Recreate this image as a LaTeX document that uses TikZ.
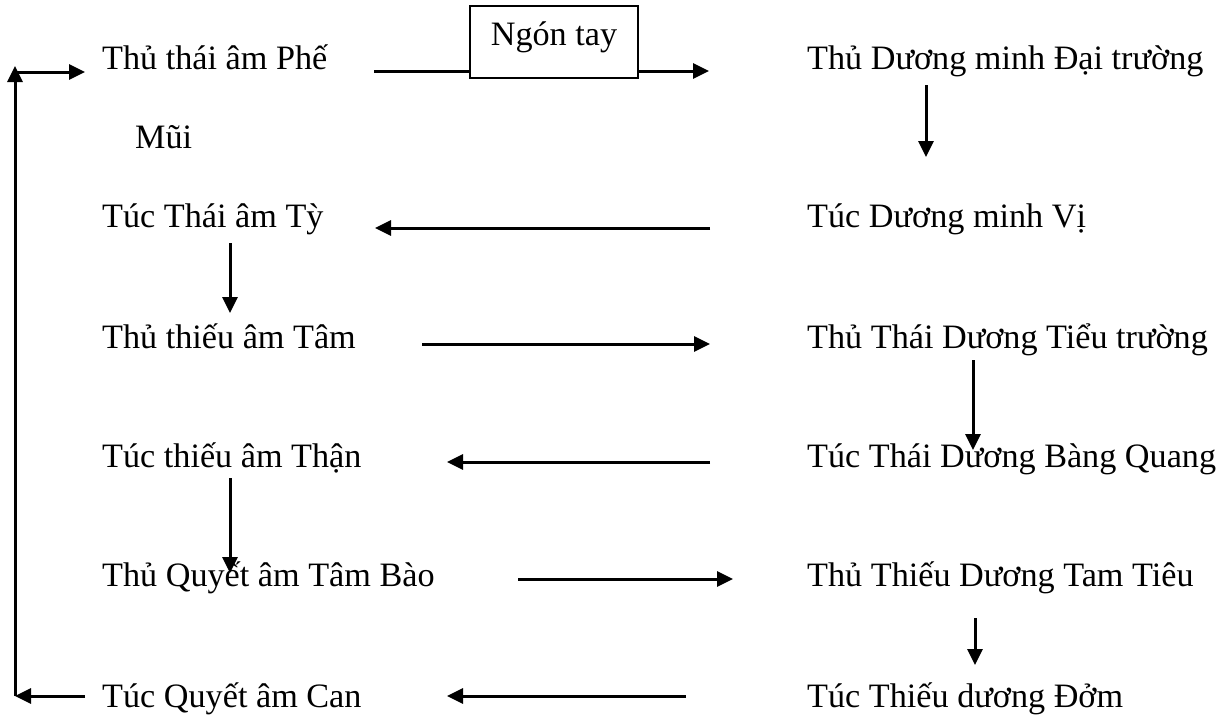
\documentclass[tikz,border=0pt]{standalone}
\usepackage{fontspec}
\setmainfont{Liberation Serif}
\usetikzlibrary{arrows.meta}
\begin{document}
\begin{tikzpicture}[x=1pt,y=-1pt,
  lbl/.style={anchor=base west, inner sep=0pt, font=\fontsize{34.2}{40}\selectfont},
  conn/.style={line width=3pt, -{Triangle[length=16pt,width=15pt]}},
  plainline/.style={line width=3pt},
  frame/.style={draw, line width=2.3pt, minimum width=168pt, minimum height=72pt, inner sep=0pt}]
\useasboundingbox (0,0) rectangle (1226,715);
% left column
\node[lbl] (L1) at (102,69) {Thủ thái âm Phế};
\node[lbl] (Mui) at (135,148) {Mũi};
\node[lbl] (L3) at (102,227) {Túc Thái âm Tỳ};
\node[lbl] (L4) at (102,348) {Thủ thiếu âm Tâm};
\node[lbl] (L5) at (102,467) {Túc thiếu âm Thận};
\node[lbl] (L6) at (102,586) {Thủ Quyết âm Tâm Bào};
\node[lbl] (L7) at (102,707) {Túc Quyết âm Can};
% right column
\node[lbl] (R1) at (807,69) {Thủ Dương minh Đại trường};
\node[lbl] (R3) at (807,227) {Túc Dương minh Vị};
\node[lbl] (R4) at (807,348) {Thủ Thái Dương Tiểu trường};
\node[lbl] (R5) at (807,467) {Túc Thái Dương Bàng Quang};
\node[lbl] (R6) at (807,586) {Thủ Thiếu Dương Tam Tiêu};
\node[lbl] (R7) at (807,707) {Túc Thiếu dương Đởm};
% box
\node[frame] (box) at (554,42) {};
\node[lbl, anchor=base] (ngon) at (554,45) {Ngón tay};
% coordinates
\coordinate (a1s) at (374,71);
\coordinate (a1m) at (box.west |- a1s);
\coordinate (a1n) at (box.east |- a1s);
\coordinate (a1e) at (709,71);
\coordinate (d1s) at (926,85);
\coordinate (d1e) at (926,157);
\coordinate (a3s) at (710,228);
\coordinate (a3e) at (375,228);
\coordinate (e1s) at (230,243);
\coordinate (e1e) at (230,313);
\coordinate (a4s) at (422,344);
\coordinate (a4e) at (710,344);
\coordinate (d2s) at (973,360);
\coordinate (d2e) at (973,450);
\coordinate (a5s) at (710,462);
\coordinate (a5e) at (447,462);
\coordinate (e2s) at (230,478);
\coordinate (e2e) at (230,573);
\coordinate (a6s) at (518,579);
\coordinate (a6e) at (733,579);
\coordinate (d3s) at (975,618);
\coordinate (d3e) at (975,665);
\coordinate (a7s) at (686,696);
\coordinate (a7e) at (447,696);
\coordinate (lb) at (85,696);
\coordinate (lc) at (15,696);
\coordinate (lt) at (15,66);
\coordinate (lm) at (15,72);
\coordinate (lr) at (85,72);
% connectors
\draw[plainline] (a1s) -- (a1m);
\draw[conn] (a1n) -- (a1e);
\draw[conn] (d1s) -- (d1e);
\draw[conn] (a3s) -- (a3e);
\draw[conn] (e1s) -- (e1e);
\draw[conn] (a4s) -- (a4e);
\draw[conn] (d2s) -- (d2e);
\draw[conn] (a5s) -- (a5e);
\draw[conn] (e2s) -- (e2e);
\draw[conn] (a6s) -- (a6e);
\draw[conn] (d3s) -- (d3e);
\draw[conn] (a7s) -- (a7e);
\draw[conn] (lb) -- (lc);
\draw[conn] (lc) -- (lt);
\draw[conn] (lm) -- (lr);
\end{tikzpicture}
\end{document}
